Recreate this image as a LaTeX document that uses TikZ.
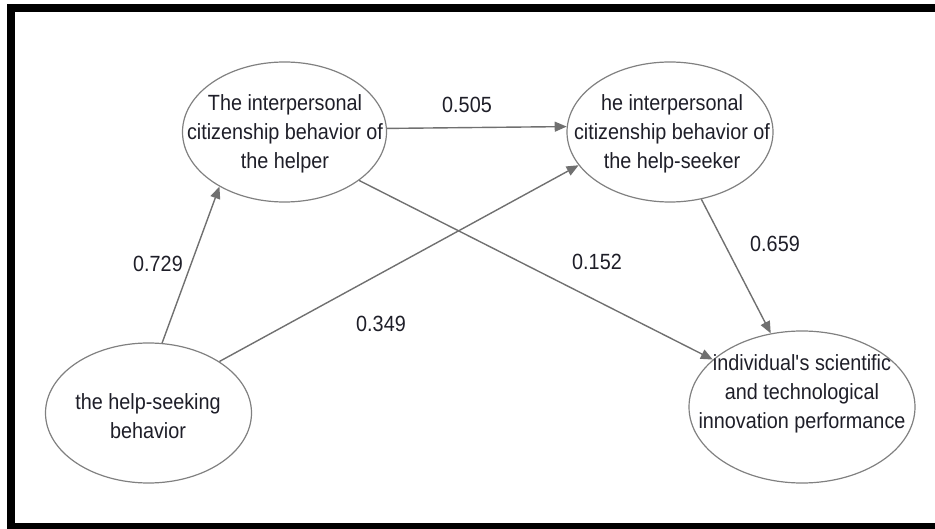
\documentclass[tikz,border=0pt]{standalone}
\usepackage{fontspec}
\setmainfont[FakeStretch=0.9]{Liberation Sans}
\usetikzlibrary{shapes.geometric,arrows.meta}
\definecolor{edgegray}{HTML}{707070}
\definecolor{ringgray}{HTML}{808080}
\definecolor{txt}{HTML}{1E1E28}
\tikzset{
  construct/.style={ellipse, draw=ringgray, line width=1.2pt, inner sep=0pt},
  lbl/.style={align=center, text=txt, font=\fontsize{22}{29}\selectfont, inner sep=0pt},
  coef/.style={text=txt, font=\fontsize{22}{29}\selectfont, inner sep=0pt},
  path/.style={draw=edgegray, line width=1.4pt, -{Triangle[length=12pt,width=10pt]}},
  frame/.style={fill=black, draw=none}
}
\begin{document}
\begin{tikzpicture}[x=1pt,y=-1pt]
\useasboundingbox (0,0) rectangle (935,529);
% frame
\fill[frame] (7,4) rectangle (935,12);
\fill[frame] (7,4) rectangle (15,529);
\fill[frame] (7,523) rectangle (935,529);
% constructs
\node[construct, minimum width=204pt, minimum height=140pt] (H) at (284.5,132) {};
\node[construct, minimum width=206pt, minimum height=140pt] (S) at (670,132) {};
\node[construct, minimum width=206pt, minimum height=140pt] (B) at (148.5,413) {};
\node[construct, minimum width=226pt, minimum height=152pt] (P) at (802,407) {};
% texts
\node[lbl] (Ht) at (285,134) {The interpersonal\\citizenship behavior of\\the helper};
\node[lbl] (St) at (672,134) {he interpersonal\\citizenship behavior of\\the help-seeker};
\node[lbl] (Bt) at (148,416) {the help-seeking\\behavior};
\node[lbl] (Pt) at (802,394) {individual\textquotesingle s scientific\\and technological\\innovation performance};
% paths
\draw[path] (H.2.25) -- (S.177.8);
\draw[path] (B.79) -- (H.220.3);
\draw[path] (B.36) -- (S.200.6);
\draw[path] (H.-33.3) -- (P.152);
\draw[path] (S.-65.2) -- (P.113.4);
% coefficients
\node[coef] (c1) at (467,105) {0.505};
\node[coef] (c2) at (158,264) {0.729};
\node[coef] (c3) at (381,324) {0.349};
\node[coef] (c4) at (597,262) {0.152};
\node[coef] (c5) at (775,244) {0.659};
\end{tikzpicture}
\end{document}
